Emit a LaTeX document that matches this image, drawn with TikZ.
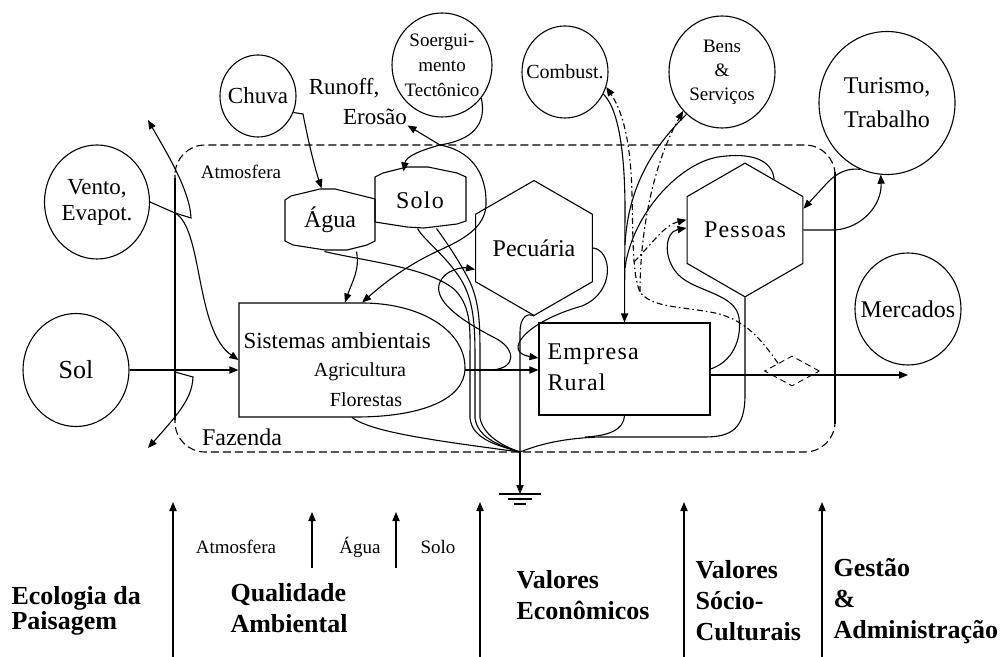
\documentclass[tikz,border=0pt]{standalone}
\usepackage{fontspec}
\setmainfont{Liberation Serif}
\newfontfamily\spaced[LetterSpace=5]{Liberation Serif}
\usepackage{tikz}
\usetikzlibrary{arrows.meta,positioning,shapes.geometric,calc}

\begin{document}
\begin{tikzpicture}[x=0.5pt,y=-0.5pt,line width=0.55pt,
  pool/.style={draw,ellipse,inner sep=0pt},
  hexa/.style={draw,regular polygon,regular polygon sides=6,shape border rotate=30,inner sep=0pt},
  txt/.style={inner sep=0pt,align=center,font=\fontsize{11.5}{13}\selectfont},
  small/.style={inner sep=0pt,font=\fontsize{9.5}{12}\selectfont},
  head/.style={inner sep=0pt,align=left,anchor=west,font=\fontsize{13}{15.5}\selectfont\bfseries},
  arr/.style={-{Triangle[length=4.5pt,width=3.6pt]}},
  cash/.style={arr,dash pattern=on 3pt off 1.5pt on 0.8pt off 1.5pt},
  farm/.style={dash pattern=on 4pt off 2pt}
]
\fill[white] (0,0) rectangle (1001,657);
\useasboundingbox (0,0) rectangle (1001,657);

% fazenda
\draw[farm,rounded corners=15pt] (175,145) rectangle (835,452);
\draw (175,178) -- (175,420);
\draw (835,172) -- (835,424);
\node[small] (atm) at (241,172) {Atmosfera};
\node[txt,font=\fontsize{12}{14}\selectfont] (faz) at (242,437) {Fazenda};

% fontes externas
\node[pool,minimum width=52.5pt,minimum height=57pt,
  label={[txt]center:{Vento,\\Evapot.}}] (vento) at (97,202) {};
\node[pool,minimum width=53pt,minimum height=56.5pt,
  label={[txt,font=\fontsize{13}{15}\selectfont]center:Sol}] (sol) at (76,370) {};
\node[pool,minimum width=38pt,minimum height=41pt,
  label={[txt]center:Chuva}] (chuva) at (258,96) {};
\node[pool,minimum width=50pt,minimum height=52pt,
  label={[txt,font=\fontsize{9.5}{12.5}\selectfont]center:{Soergui-\\mento\\Tectônico}}] (soerg) at (442,65) {};
\node[pool,minimum width=43pt,minimum height=46pt,
  label={[txt,font=\fontsize{10}{12}\selectfont]center:Combust.}] (comb) at (565,72) {};
\node[pool,minimum width=53pt,minimum height=56pt,
  label={[txt,font=\fontsize{9.5}{12}\selectfont]center:{Bens\\\&\\Serviços}}] (bens) at (722,72) {};
\node[pool,minimum width=68pt,minimum height=71.5pt,
  label={[txt,font=\fontsize{12}{17}\selectfont]center:{Turismo,\\Trabalho}}] (tur) at (887,103) {};
\node[pool,minimum width=53pt,minimum height=56pt,
  label={[txt,font=\fontsize{12}{14}\selectfont]center:Mercados}] (merc) at (908,309) {};
\node[txt] (runoff) at (344,88) {Runoff,};
\node[txt] (erosao) at (375,117) {Erosão};

% componentes
\node[txt,font=\fontsize{12}{14}\selectfont,minimum width=45pt,minimum height=31pt] (agua) at (330,220) {Água};
\draw (285,200) -- (291,196) -- (320,189) -- (335,189) -- (375,199) -- (375,241) -- (367,245)
  -- (347,250) -- (325,250) -- (293,245) -- (285,241) -- cycle;
\node[txt,font=\spaced\fontsize{12}{14}\selectfont,minimum width=45.5pt,minimum height=28pt] (solo) at (420,200) {Solo};
\draw (375,177) -- (383,173) -- (407,167) -- (428,167) -- (457,173) -- (466,177) -- (466,221)
  -- (457,224) -- (424,228) -- (407,227) -- (375,222) -- cycle;
\node[hexa,minimum size=57pt,txt,font=\fontsize{12}{14}\selectfont] (pec) at (534,248) {Pecuária};
\node[hexa,minimum size=60pt,txt,font=\spaced\fontsize{12}{14}\selectfont] (pes) at (745,230) {Pessoas};

\node[inner sep=0pt,minimum width=113pt,minimum height=57pt] (sist) at (352,360) {};
\draw (362,303) -- (239,303) -- (239,417) -- (356,417) .. controls (420,417) and (465,400) .. (465,368)
  .. controls (465,330) and (420,303) .. (362,303);
\node[txt,anchor=west] (sistT) at (243,341) {Sistemas ambientais};
\node[txt,font=\fontsize{10}{12}\selectfont] (agri) at (360,372) {Agricultura};
\node[txt,font=\fontsize{10}{12}\selectfont] (flor) at (366,400) {Florestas};

\node[draw,minimum width=85.5pt,minimum height=46pt,inner sep=0pt] (emp) at (624.5,369) {};
\node[txt,align=left,anchor=west,font=\spaced\fontsize{12}{15.5}\selectfont] (empT) at (547,367) {Empresa\\Rural};
\node[draw,diamond,densely dashed,line width=0.45pt,minimum width=27.5pt,minimum height=15pt,inner sep=0pt] (dia) at (792,371) {};

\coordinate (evj) at (175,213);
\coordinate (evtop) at (148,120);
\coordinate (refj) at (175,372);
\coordinate (refout) at (148,448);
\coordinate (erj) at (440,145);
\coordinate (sistE) at (465,370);
\coordinate (pj) at (492,370);
\coordinate (gj) at (520,452);
\coordinate (gnd) at (520,494);
\coordinate (mj) at (640,292);
\coordinate (mk) at (634,262);

% fluxos
\draw[arr] (sol.east) -- (sol.east -| sist.west);
\draw (vento.east) -- (evj);
\draw[arr] (evj) .. controls (203,228) and (195,330) .. (sist.west);
\draw[arr] (evj) -- (191,218) .. controls (190,190) and (165,150) .. (evtop);
\draw[arr] (refj) -- (193,377) .. controls (192,398) and (180,412) .. (refout);
\draw[arr] (chuva.-25) -- (303,114) .. controls (308,140) and (314,165) .. (agua.105);
\draw[arr] (soerg.-40) .. controls (487,125) and (472,140) .. (erj) .. controls (422,150) and (406,156) .. (solo.120);
\draw[arr] (erj) -- (erosao.south east);
\draw[arr] (erj) .. controls (468,150) and (487,170) .. (486,205) .. controls (485,228) and (462,240) .. (440,250)
  .. controls (405,266) and (382,285) .. (sist.80);
\draw[arr] (agua.-50) .. controls (360,270) and (352,282) .. (sist.97);

\draw (agua.-100) .. controls (370,262) and (430,268) .. (455,290) .. controls (472,308) and (470,330) .. (470,360)
  -- (470,418) .. controls (472,440) and (500,446) .. (gj);
\draw (solo.-95) .. controls (424,240) and (445,255) .. (460,278) .. controls (474,300) and (475,325) .. (475,360)
  -- (475,418) .. controls (478,440) and (505,447) .. (gj);
\draw (solo.-60) .. controls (445,240) and (460,262) .. (470,282) .. controls (480,305) and (480,325) .. (480,360)
  -- (480,418) .. controls (484,438) and (508,448) .. (gj);
\draw (sist.south) .. controls (372,432) and (430,440) .. (gj);
\draw (pec.south) .. controls (527,312) and (520,318) .. (520,332) -- (gj);
\draw[arr] (gj) -- (gnd);
\draw[line width=1pt] ([xshift=-10.5pt]gnd) -- ([xshift=10.5pt]gnd);
\draw[line width=1pt] ([xshift=-6pt,yshift=-2.5pt]gnd) -- ([xshift=6pt,yshift=-2.5pt]gnd);
\draw[line width=1.2pt] ([xshift=-3pt,yshift=-5pt]gnd) -- ([xshift=3pt,yshift=-5pt]gnd);
\draw (pes.south) -- (745,395) .. controls (745,428) and (732,437) .. (705,437) -- (600,437)
  .. controls (565,438) and (540,444) .. (gj);
\draw (emp.south) .. controls (624,430) and (608,436) .. (585,437);

\draw[arr] (sistE) -- (sistE -| emp.west);
\draw[arr] (pj) .. controls (518,368) and (515,348) .. (495,338) .. controls (460,320) and (432,300) .. (440,282)
  .. controls (445,270) and (462,267) .. (pec.200);
\draw[arr] (pec.east) .. controls (612,250) and (616,292) .. (582,306) .. controls (525,322) and (502,352) .. ([yshift=5.5pt]emp.west);
\draw[arr] (comb.-30) .. controls (620,110) and (625,160) .. (625,210) -- (emp.north);
\draw (bens.-130) .. controls (655,145) and (628,185) .. (625,245);
\draw (pes.60) .. controls (772,160) and (752,152) .. (718,157) .. controls (678,164) and (632,215) .. (625,268);
\draw[arr] (emp.east) .. controls (732,362) and (742,340) .. (739,318) .. controls (736,295) and (700,292) .. (682,278)
  .. controls (662,262) and (664,232) .. (pes.178);

\draw[cash] (dia.north west) .. controls (765,345) and (748,320) .. (715,313) .. controls (680,306) and (652,308) .. (mj)
  .. controls (632,275) and (633,230) .. (632,195) .. controls (631,150) and (625,115) .. (comb.-20);
\draw[cash] (mj) .. controls (640,240) and (650,170) .. (bens.-135);
\draw[cash] (mk) .. controls (655,240) and (665,225) .. (pes.170);

\draw[arr] (pes.east) -- (835,230) .. controls (862,228) and (882,205) .. (tur.-95);
\draw[arr] (tur.-112) .. controls (848,168) and (838,172) .. (828,182) -- (pes.20);
\draw[arr] ([yshift=-3pt]emp.east) -- ([yshift=-3pt]emp.east -| merc.south);

% dimensoes
\foreach \x [count=\i] in {173,480,684,822} {
  \coordinate (rb\i) at (\x,657);
  \draw[arr] (rb\i) -- ++(0,-155);
}
\foreach \x [count=\i] in {312,396} {
  \coordinate (qb\i) at (\x,568);
  \draw[arr] (qb\i) -- ++(0,-56);
}
\node[small] (qatm) at (236,547) {Atmosfera};
\node[small] (qagua) at (360,547) {Água};
\node[small] (qsolo) at (438,547) {Solo};
\node[head,font=\fontsize{13}{12.5}\selectfont\bfseries] (eco) at (11,611) {Ecologia da\\Paisagem};
\node[head] (qual) at (230,608) {Qualidade\\Ambiental};
\node[head] (econ) at (516,595) {Valores\\Econômicos};
\node[head] (socio) at (695,601) {Valores\\Sócio-\\Culturais};
\node[head] (gest) at (833,601) {Gestão\\\&\\Administração};
\end{tikzpicture}
\end{document}
